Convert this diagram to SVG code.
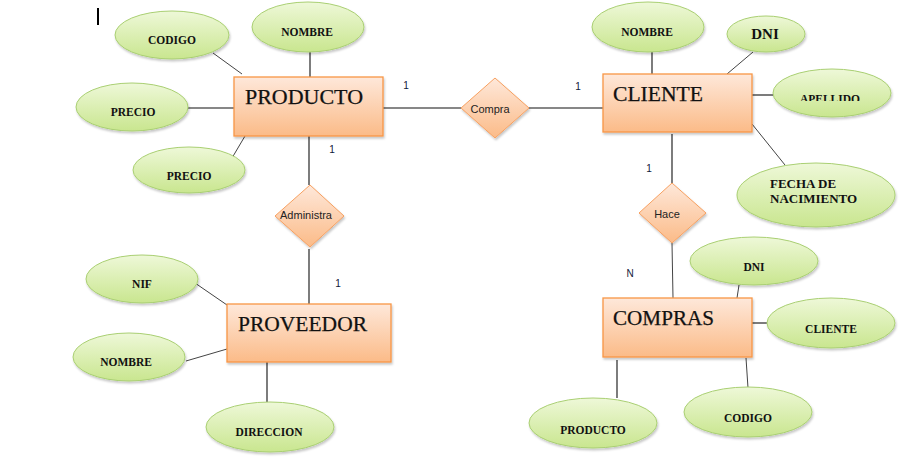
<svg xmlns="http://www.w3.org/2000/svg" width="911" height="458" viewBox="0 0 911 458">
<defs>
<linearGradient id="gAttr" x1="0" y1="0" x2="0" y2="1">
<stop offset="0" stop-color="#eef8d8"/>
<stop offset="1" stop-color="#c9e68f"/>
</linearGradient>
<linearGradient id="gEnt" x1="0" y1="0" x2="0" y2="1">
<stop offset="0" stop-color="#fee8da"/>
<stop offset="1" stop-color="#fbbb88"/>
</linearGradient>
<filter id="sh" x="-10%" y="-10%" width="130%" height="140%">
<feDropShadow dx="1" dy="2" stdDeviation="1.2" flood-color="#000" flood-opacity="0.22"/>
</filter>
<clipPath id="clipApe"><rect x="770" y="60" width="130" height="41"/></clipPath>
</defs>
<style>
.attr ellipse{fill:url(#gAttr);stroke:#a9cf72;stroke-width:1;filter:url(#sh)}
.ent rect{fill:url(#gEnt);stroke:#f79646;stroke-width:1.3;filter:url(#sh)}
.rel polygon{fill:url(#gEnt);stroke:#f7a060;stroke-width:1;filter:url(#sh)}
.at{font-family:"Liberation Serif",serif;font-size:11.5px;font-weight:bold;fill:#111;text-anchor:middle}
.et{font-family:"Liberation Serif",serif;font-size:20px;fill:#111;stroke:#111;stroke-width:0.25}
.rt{font-family:"Liberation Sans",Arial,sans-serif;font-size:11px;fill:#222;text-anchor:middle}
.num{font-family:"Liberation Sans",Arial,sans-serif;font-size:10px;fill:#10203a;text-anchor:middle}
#connectors line{stroke:#111;stroke-width:1.1}
#connectors line.thin{stroke:#444;stroke-width:1}
</style>
<rect width="911" height="458" fill="#ffffff"/>
<line x1="98" y1="8" x2="98" y2="25" stroke="#000" stroke-width="2"/>

<g id="connectors">
<line class="thin" x1="213" y1="53" x2="242" y2="74"/>
<line x1="310" y1="52" x2="310" y2="77"/>
<line x1="188" y1="108" x2="234" y2="108"/>
<line class="thin" x1="232" y1="158" x2="245" y2="136"/>
<line x1="383" y1="108" x2="461" y2="108"/>
<line x1="529" y1="108" x2="606" y2="108"/>
<line x1="309" y1="136" x2="309" y2="185"/>
<line x1="309" y1="249" x2="309" y2="304"/>
<line class="thin" x1="195" y1="283" x2="227" y2="305"/>
<line class="thin" x1="186" y1="361" x2="227" y2="349"/>
<line x1="267" y1="362" x2="267" y2="402"/>
<line x1="652" y1="52" x2="652" y2="74"/>
<line class="thin" x1="753" y1="52" x2="727" y2="74"/>
<line x1="752" y1="95" x2="773" y2="95"/>
<line class="thin" x1="752" y1="124" x2="785" y2="165"/>
<line x1="672" y1="134" x2="672" y2="183"/>
<line class="thin" x1="672" y1="243" x2="673" y2="298"/>
<line class="thin" x1="739" y1="285" x2="737" y2="298"/>
<line x1="752" y1="323" x2="767" y2="323"/>
<line x1="617" y1="360" x2="617" y2="398"/>
<line class="thin" x1="746" y1="358" x2="748" y2="388"/>
</g>

<g id="codigo-prod" class="attr"><ellipse cx="172" cy="35" rx="57" ry="24"/><text class="at" x="172" y="44">CODIGO</text></g>
<g id="nombre-prod" class="attr"><ellipse cx="308" cy="27" rx="56" ry="25"/><text class="at" x="307" y="36">NOMBRE</text></g>
<g id="precio-1" class="attr"><ellipse cx="132" cy="107" rx="56" ry="24"/><text class="at" x="133" y="116">PRECIO</text></g>
<g id="precio-2" class="attr"><ellipse cx="189" cy="170" rx="56" ry="23"/><text class="at" x="189" y="180">PRECIO</text></g>

<g id="producto" class="ent"><rect x="234" y="77" width="149" height="59"/><text class="et" x="245" y="104" textLength="118" lengthAdjust="spacingAndGlyphs">PRODUCTO</text></g>

<g id="compra" class="rel"><polygon points="495,78 529,108 495,138 461,108"/><text class="rt" x="490" y="113">Compra</text></g>

<g id="cliente" class="ent"><rect x="603" y="74" width="149" height="58"/><text class="et" x="613" y="101" textLength="90" lengthAdjust="spacingAndGlyphs">CLIENTE</text></g>
<g id="nombre-cli" class="attr"><ellipse cx="648" cy="27" rx="56" ry="25"/><text class="at" x="647" y="36">NOMBRE</text></g>
<g id="dni-cli" class="attr"><ellipse cx="766" cy="34" rx="39" ry="18"/><text class="at" x="765" y="39" style="font-size:15px">DNI</text></g>
<g id="apellido" class="attr"><ellipse cx="832" cy="93" rx="59" ry="24"/><text class="at" x="830" y="103" clip-path="url(#clipApe)">APELLIDO</text></g>
<g id="fecha" class="attr"><ellipse cx="816" cy="195" rx="79" ry="32"/><text class="at" x="770" y="188" style="font-size:13px;text-anchor:start">FECHA DE</text><text class="at" x="770" y="203" style="font-size:13px;text-anchor:start">NACIMIENTO</text></g>

<g id="administra" class="rel"><polygon points="310,185 344,216 310,247 275,216"/><text class="rt" x="306" y="219">Administra</text></g>

<g id="proveedor" class="ent"><rect x="227" y="304" width="164" height="58"/><text class="et" x="238" y="331" textLength="129" lengthAdjust="spacingAndGlyphs" style="font-size:21px">PROVEEDOR</text></g>
<g id="nif" class="attr"><ellipse cx="142" cy="279" rx="56" ry="24"/><text class="at" x="142" y="288">NIF</text></g>
<g id="nombre-prov" class="attr"><ellipse cx="129" cy="357" rx="56" ry="24"/><text class="at" x="126" y="366">NOMBRE</text></g>
<g id="direccion" class="attr"><ellipse cx="270" cy="427" rx="64" ry="25"/><text class="at" x="269" y="436">DIRECCION</text></g>

<g id="hace" class="rel"><polygon points="672,183 706,213 672,243 639,213"/><text class="rt" x="667" y="218">Hace</text></g>

<g id="compras" class="ent"><rect x="603" y="298" width="149" height="59"/><text class="et" x="613" y="325" textLength="101" lengthAdjust="spacingAndGlyphs">COMPRAS</text></g>
<g id="dni-comp" class="attr"><ellipse cx="754" cy="261" rx="64" ry="24"/><text class="at" x="754" y="271">DNI</text></g>
<g id="cliente-comp" class="attr"><ellipse cx="831" cy="323" rx="64" ry="25"/><text class="at" x="831" y="333">CLIENTE</text></g>
<g id="producto-comp" class="attr"><ellipse cx="593" cy="423" rx="64" ry="25"/><text class="at" x="593" y="434">PRODUCTO</text></g>
<g id="codigo-comp" class="attr"><ellipse cx="748" cy="412" rx="64" ry="25"/><text class="at" x="748" y="422">CODIGO</text></g>

<g id="cardinalities">
<text class="num" x="406" y="89">1</text>
<text class="num" x="578" y="90">1</text>
<text class="num" x="332" y="153">1</text>
<text class="num" x="338" y="287">1</text>
<text class="num" x="649" y="172">1</text>
<text class="num" x="630" y="277">N</text>
</g>
</svg>
